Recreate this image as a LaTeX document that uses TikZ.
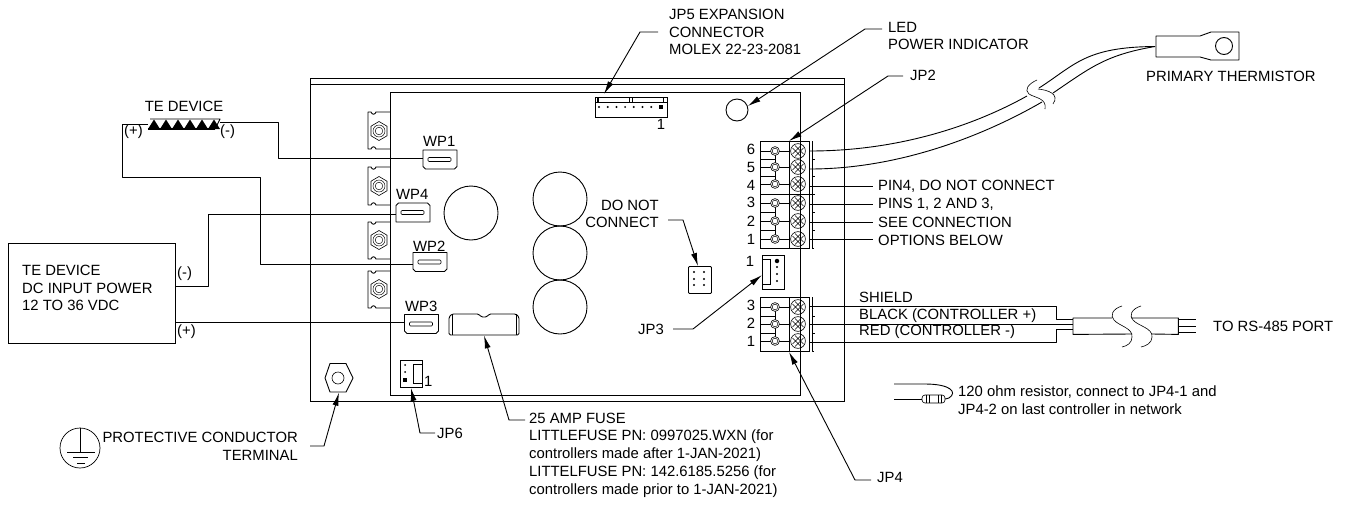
\documentclass[tikz,border=0pt]{standalone}
\usepackage{fontspec}
\setmainfont{Liberation Sans}
\usetikzlibrary{arrows.meta}
\tikzset{
  ln/.style={line width=0.9pt,draw=black,line join=round},
  thin line/.style={line width=0.6pt,draw=black},
  hair/.style={line width=0.45pt,draw=black},
  lbl/.style={anchor=west,inner sep=0pt,align=left,font=\fontsize{14.85}{17.7}\selectfont},
  lblr/.style={anchor=east,inner sep=0pt,align=right,font=\fontsize{14.85}{17.7}\selectfont},
  box/.style={draw=black,line width=0.9pt,inner sep=0pt,rectangle},
  ghost/.style={inner sep=0pt,rectangle},
  leader/.style={ln,-{Latex[length=13pt,width=6pt]}},
  dotf/.style={fill=black,draw=none,circle,inner sep=0pt,minimum size=2.4pt}
}
% WP connector: x, y centre, name, flip (1 = chamfer bottom, -1 = chamfer top)
\newcommand\wpconn[4]{%
  \node[ghost,minimum width=34pt,minimum height=19pt] (#3) at (#1,#2) {};
  \begin{scope}[shift={(#1,#2)},yscale=#4]
    \draw[ln] (-17,-9.5) -- (17,-9.5) -- (17,7) -- (14.5,9.5) -- (-14.5,9.5) -- (-17,7) -- cycle;
    \draw[thin line,rounded corners=1pt] (-12,-2) rectangle (11,2);
  \end{scope}}
% lug with a hexagon nut
\newcommand\lug[3]{%
  \draw[ln] (390,#1) -- (376,#1) .. controls (375,#1+3) and (372,#1+3) .. (371,#1) -- (368,#1) -- (368,#2)
     -- (371,#2) .. controls (372,#2-3) and (375,#2-3) .. (376,#2) -- (390,#2);
  \draw[thin line] (379,#3-9.5) -- (387,#3-4.8) -- (387,#3+4.8) -- (379,#3+9.5) -- (371,#3+4.8) -- (371,#3-4.8) -- cycle;
  \draw[hair] (379,#3) circle (6);
  \draw[hair] (379,#3) circle (3.8);}
% terminal pin: y
\newcommand\tpin[1]{%
  \draw[ln] (760,#1) -- (771,#1) (779,#1) -- (789,#1);
  \draw[thin line,fill=white] (775,#1) circle (4.4);
  \draw[hair] (775,#1) circle (2.8);
  \draw[thin line] (798,#1) circle (7.4);
  \draw[hair] (792.5,#1-3) -- (801,#1+5.5) (795,#1-5.5) -- (803.5,#1+3) (792.5,#1+3) -- (801,#1-5.5) (795,#1+5.5) -- (803.5,#1-3);}
\begin{document}
\begin{tikzpicture}[x=1pt,y=-1pt]
\useasboundingbox (0,0) rectangle (1351,506);
% enclosure
\node[box,minimum width=534pt,minimum height=323.5pt,anchor=north west] (encl) at (310,77.5) {};
\draw[ln] (encl.west |- 0,84) coordinate (enclA) -- (encl.east |- 0,84) coordinate (enclB);
\node[box,minimum width=410pt,minimum height=303pt,anchor=north west] (pcb) at (390,92) {};
% lugs
\lug{112}{149}{131}
\lug{167}{205}{186}
\lug{222}{259}{240}
\lug{271}{308}{289}
% capacitors
\node[box,circle,minimum size=54pt] (capa) at (471,213) {};
\node[box,circle,minimum size=54pt] (capb) at (560,199) {};
\node[box,circle,minimum size=54pt] (capc) at (560,253) {};
\node[box,circle,minimum size=54pt] (capd) at (560,307) {};
\node[box,circle,minimum size=22pt] (led) at (737,110) {};
% WP connectors
\wpconn{440}{159.5}{wpa}{1}
\wpconn{413}{212.5}{wpd}{-1}
\wpconn{430}{262}{wpb}{1}
\wpconn{421.5}{324}{wpc}{1}
\node[lbl] (lwpa) at (423,141) {WP1};
\node[lbl] (lwpd) at (396,194) {WP4};
\node[lbl] (lwpb) at (413,246) {WP2};
\node[lbl] (lwpc) at (405,306) {WP3};
% TE device
\node[ghost,minimum width=72pt,minimum height=10pt] (te) at (184,124) {};
\foreach \i in {0,...,5}{\fill (148+12*\i,129) -- (154+12*\i,119.5) -- (160+12*\i,129) -- cycle;}
\draw[ln] (150,119) -- (220,119) -- (215,129);
\draw[line width=1.4pt] (148,129) -- (215,129);
\node[lbl,anchor=center] (lte) at (184,106) {TE DEVICE};
\node[lbl] (tepos) at (124,132) {(+)};
\node[lbl] (teneg) at (220,132) {(-)};
\coordinate (tew) at (148,124);
\coordinate (tee) at (220,122);
% PSU
\node[box,minimum width=167pt,minimum height=100pt,anchor=north west] (psu) at (8,243) {};
\node[lbl] (lpsu) at (22,288) {TE DEVICE\\DC INPUT POWER\\12 TO 36 VDC};
\node[lbl] (psuneg) at (177,274) {(-)};
\node[lbl] (psupos) at (177,332) {(+)};
% wires
\draw[ln] (tee) -- (278,122) -- (278,158) -- (wpa.west |- 0,158);
\draw[ln] (tew) -- (122,124) -- (122,177) -- (260,177) -- (260,264) -- (wpb.west |- 0,264);
\draw[ln] (psu.east |- 0,286) -- (208,286) -- (208,214) -- (wpd.west |- 0,214);
\draw[ln] (psu.east |- 0,322) -- (wpc.west |- 0,322);
% fuse
\node[ghost,minimum width=70pt,minimum height=21pt,anchor=north west] (fuse) at (449,314) {};
\draw[ln,rounded corners=1.5pt] (449,335) -- (449,317) -- (452,314) -- (479,314) -- (481,317) -- (487,317) -- (489,314) -- (516,314) -- (519,317) -- (519,335) -- cycle;
\draw[thin line] (452,314) -- (452,335) (516,314) -- (516,335);
% JP5
\node[box,minimum width=72pt,minimum height=20pt,anchor=north west] (jpf) at (595,97) {};
\draw[thin line] (597,97) -- (597,102) (598.5,97) -- (598.5,102) (629,97) -- (629,102) (632,97) -- (632,102) (663,97) -- (663,102) (595,102) -- (667,102);
\foreach \i in {0,...,7}{\node[dotf,minimum size=2.2pt] (jpfd\i) at (599+8.7*\i,107) {};}
\node[draw=none,fill=black,minimum size=4.5pt,inner sep=0pt] (jpfone) at (661,107) {};
\node[lbl,anchor=center] (lone) at (661,124) {1};
\node[lbl] (ljpf) at (669,32) {JP5 EXPANSION\\CONNECTOR\\MOLEX 22-23-2081};
\coordinate (jpfa) at (658,32);
\coordinate (jpfb) at (640,32);
\coordinate (jpft) at (604,94);
\draw[leader] (jpfa) -- (jpfb) -- (jpft);
% LED
\node[lbl] (lled) at (888,36) {LED\\POWER INDICATOR};
\coordinate (leda) at (882,29);
\coordinate (ledb) at (865,29);
\draw[leader] (leda) -- (ledb) -- (led.20);
% JP2 block
\node[box,minimum width=49pt,minimum height=107pt,anchor=north west] (jpb) at (760,141) {};
\draw[ln] (789,141) -- (789,248) (809,141) -- (809,248) (812,141) -- (812,248) (812,248) -- (814,248);
\draw[ln] (760,194) -- (812,194);
\foreach \y in {159,176,212,230}{\draw[ln] (760,\y) -- (775,\y);}
\foreach \y in {159,176,194,212,230}{\draw[thin line] (812,\y) -- (815,\y);}
\draw[ln] (775,151) -- (775,184) (775,203) -- (775,239);
\foreach \y in {151,167,184,203,221,239}{\tpin{\y}}
\node[lbl,anchor=center] (na) at (751,149) {6};
\node[lbl,anchor=center] (nb) at (751,167) {5};
\node[lbl,anchor=center] (nc) at (751,185) {4};
\node[lbl,anchor=center] (nd) at (751,202) {3};
\node[lbl,anchor=center] (ne) at (751,221) {2};
\node[lbl,anchor=center] (nf) at (751,239) {1};
\node[lbl] (lpa) at (878,186) {PIN4, DO NOT CONNECT};
\node[lbl] (lpb) at (878,204) {PINS 1, 2 AND 3,};
\node[lbl] (lpc) at (878,222) {SEE CONNECTION};
\node[lbl] (lpd) at (878,240) {OPTIONS BELOW};
\foreach \y/\t in {186/lpa,204/lpb,222/lpc,239/lpd}{\draw[ln] (jpb.east |- 0,\y) -- (873,\y);}
\node[lbl] (ljpb) at (910,75) {JP2};
\coordinate (jpba) at (903,76);
\coordinate (jpbb) at (888,76);
\draw[leader] (jpba) -- (jpbb) -- (jpb.north -| 789,0);
% thermistor cable
\draw[ln] (jpb.east |- 0,151) .. controls (900,151) and (975,125) .. (1027,96);
\draw[ln] (jpb.east |- 0,169) .. controls (900,169) and (985,135) .. (1042,102);
\draw[ln] (1039,88) .. controls (1075,65) and (1085,47) .. (1155,46.5);
\draw[ln] (1053,93) .. controls (1090,68) and (1105,55) .. (1155,46.5);
\draw[thin line] (1037,80) .. controls (1028,84) and (1024,90) .. (1029,94) .. controls (1035,98) and (1047,98) .. (1045,109);
\draw[thin line] (1038,89) .. controls (1048,90) and (1060,94) .. (1053,104);
\node[ghost,minimum width=84pt,minimum height=28pt,anchor=north west] (therm) at (1155,32) {};
\draw[ln] (1156,36) -- (1200,36) -- (1211,32) -- (1239,32) -- (1239,60) -- (1211,60) -- (1200,57) -- (1156,57) -- cycle;
\node[box,circle,minimum size=17pt] (thole) at (1224,46) {};
\node[lbl] (lth) at (1146,76) {PRIMARY THERMISTOR};
% JP3
\node[box,minimum width=22pt,minimum height=34pt,anchor=north west] (jpc) at (762,255) {};
\draw[thin line] (762,259) -- (770,259) -- (770,284) -- (762,284);
\node[dotf,minimum size=4.5pt] (jpcone) at (777,261) {};
\foreach \y [count=\i] in {267,274,281}{\node[dotf] (jpcd\i) at (777,\y) {};}
\node[lbl,anchor=center] (ljpcone) at (750,261) {1};
\node[lbl] (ljpc) at (638,329) {JP3};
\coordinate (jpca) at (673,329);
\coordinate (jpcb) at (693,329);
\draw[leader] (jpca) -- (jpcb) -- (jpc.west |- 0,275);
% do not connect header
\node[box,rounded corners=1pt,minimum width=23pt,minimum height=27pt,anchor=north west] (dnc) at (688,266) {};
\foreach \x/\y [count=\i] in {694/272,704/272,694/279,704/279,694/285,704/285}{\node[dotf] (dncd\i) at (\x,\y) {};}
\node[lblr] (ldnc) at (659,214) {DO NOT\\CONNECT};
\coordinate (dnca) at (668,220);
\coordinate (dncb) at (683,220);
\draw[leader] (dnca) -- (dncb) -- (dnc.north -| 698,0);
% JP4 block
\node[box,minimum width=49pt,minimum height=54pt,anchor=north west] (jpd) at (760,297) {};
\draw[ln] (789,297) -- (789,351) (809,297) -- (809,351) (812,297) -- (812,351) -- (814,351);
\foreach \y in {316,333}{\draw[ln] (760,\y) -- (775,\y); \draw[thin line] (812,\y) -- (815,\y);}
\draw[ln] (775,307) -- (775,341);
\foreach \y in {307,324,341}{\tpin{\y}}
\node[lbl,anchor=center] (ng) at (751,305) {3};
\node[lbl,anchor=center] (nh) at (751,323) {2};
\node[lbl,anchor=center] (ni) at (751,341) {1};
\node[lbl] (lsh) at (859,297) {SHIELD};
\node[lbl] (lbk) at (859,316) {BLACK (CONTROLLER +)};
\node[lbl] (lrd) at (859,332) {RED (CONTROLLER -)};
% RS-485 cable
\node[ghost,minimum width=39pt,minimum height=16pt,anchor=north west] (cbla) at (1073,318) {};
\node[ghost,minimum width=45pt,minimum height=16pt,anchor=north west] (cblb) at (1133,318) {};
\draw[ln] (1112,318) -- (cbla.north west) -- (cbla.south west) -- (1132,334);
\draw[ln] (1131,318) -- (cblb.north east) -- (cblb.south east) -- (1152,334);
\draw[thin line] (1122,306) .. controls (1112,309) and (1110,316) .. (1114,320) .. controls (1119,326) and (1133,328) .. (1132,337) .. controls (1132,343) and (1127,346) .. (1122,347);
\draw[thin line] (1141,306) .. controls (1131,309) and (1129,316) .. (1133,320) .. controls (1138,326) and (1153,328) .. (1152,337) .. controls (1152,343) and (1146,346) .. (1141,347);
\draw[ln] (jpd.east |- 0,306) -- (1056,306) -- (1056,319) -- (cbla.west |- 0,319);
\draw[ln] (jpd.east |- 0,324) -- (cbla.west |- 0,324);
\draw[ln] (jpd.east |- 0,342) -- (1056,342) -- (1056,329) -- (cbla.west |- 0,329);
\draw[ln] (cblb.east |- 0,319.5) -- (1196,319.5) (cblb.east |- 0,326) -- (1196,326) (cblb.east |- 0,332.5) -- (1196,332.5);
\node[lbl] (lrs) at (1213,326) {TO RS-485 PORT};
% resistor note
\node[ghost,minimum width=23pt,minimum height=8pt] (res) at (933.5,399) {};
\draw[thin line,rounded corners=3pt] (922,395) rectangle (945,403);
\draw[thin line] (926,395) -- (926,403) (929,395) -- (929,403) (938,395) -- (938,403) (941,395) -- (941,403);
\coordinate (resa) at (894,384);
\coordinate (resb) at (894,399);
\draw[ln] (resa) -- (925,384) .. controls (950,384) and (958,392) .. (949,398) -- (res.east);
\draw[ln] (resb) -- (res.west);
\node[lbl] (lres) at (958,400) {120 ohm resistor, connect to JP4-1 and\\JP4-2 on last controller in network};
% JP4 leader
\node[lbl] (ljpd) at (877,477) {JP4};
\coordinate (jpda) at (871,480);
\coordinate (jpdb) at (855,480);
\draw[leader] (jpda) -- (jpdb) -- (jpd.south -| 789,0);
% fuse label
\node[lbl] (lfu) at (529,455) {25 AMP FUSE\\LITTLEFUSE PN: 0997025.WXN (for\\controllers made after 1-JAN-2021)\\LITTELFUSE PN: 142.6185.5256 (for\\controllers made prior to 1-JAN-2021)};
\coordinate (fua) at (525,420);
\coordinate (fub) at (509,420);
\draw[leader] (fua) -- (fub) -- (fuse.south -| 484,0);
% JP6
\node[box,minimum width=22pt,minimum height=27pt,anchor=north west] (jpg) at (400,360) {};
\draw[thin line] (422,364) -- (413,364) -- (413,383) -- (422,383);
\foreach \y [count=\i] in {365,372}{\node[dotf,minimum size=2pt] (jpgd\i) at (405,\y) {};}
\node[draw=none,fill=black,minimum size=3.5pt,inner sep=0pt] (jpgone) at (405,380) {};
\node[lbl] (ljpgone) at (424,381) {1};
\node[lbl] (ljpg) at (437,433) {JP6};
\coordinate (jpga) at (435,433);
\coordinate (jpgb) at (420,433);
\draw[leader] (jpga) -- (jpgb) -- (jpg.south -| 411,0);
% earth stud
\node[ghost,minimum width=28pt,minimum height=29pt] (nut) at (339,378) {};
\draw[ln] (330,363.5) -- (346,363.5) -- (353,378) -- (346,392) -- (330,392) -- (325,378) -- cycle;
\draw[thin line] (338,378) circle (6);
\coordinate (nuta) at (310,446);
\coordinate (nutb) at (324,446);
\draw[leader] (nuta) -- (nutb) -- (nut.south);
\node[lblr] (lpcb) at (298,446) {PROTECTIVE CONDUCTOR\\TERMINAL};
% ground symbol
\node[box,circle,minimum size=40pt,line width=0.7pt] (gnd) at (80,448) {};
\draw[thin line] (gnd.north) -- (80,452) (67,452) -- (95,452) (73,457) -- (88,457) (77,463) -- (85,463);
\end{tikzpicture}
\end{document}
